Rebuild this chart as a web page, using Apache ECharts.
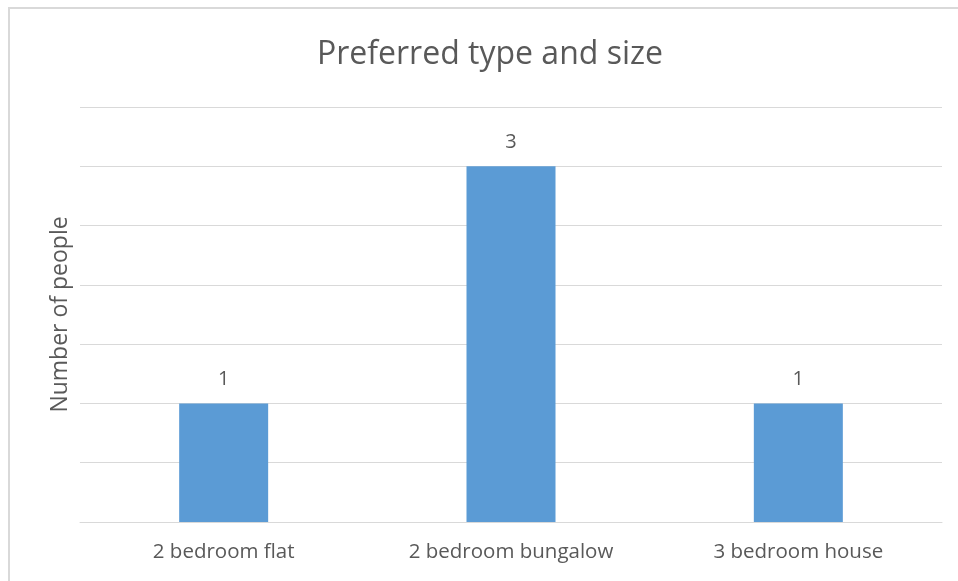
<!DOCTYPE html>
<html>
<head>
<meta charset="utf-8">
<script src="https://cdn.jsdelivr.net/npm/echarts@6/dist/echarts.min.js"></script>
<style>
  html, body { margin: 0; padding: 0; background: #fff; }
  #chart { width: 958px; height: 581px; }
</style>
</head>
<body>
<div id="chart"></div>
<script>
// data
var categories = ['2 bedroom flat', '2 bedroom bungalow', '3 bedroom house'];
var peopleCounts = [1, 3, 1];

var textColor = '#595959';
var gridColor = '#d9d9d9';

var myChart = echarts.init(document.getElementById('chart'));
myChart.setOption({
    backgroundColor: '#fff',
    animation: false,
    title: {
        text: 'Preferred type and size',
        left: 312,
        top: 34,
        textStyle: { fontFamily: 'Open Sans', fontSize: 32, fontWeight: 'normal', color: textColor }
    },
    // chart frame (top + left edge only visible)
    graphic: [
        { type: 'line', shape: { x1: 8, y1: 8, x2: 958, y2: 8 }, style: { stroke: gridColor, lineWidth: 2 } },
        { type: 'line', shape: { x1: 9, y1: 8, x2: 9, y2: 581 }, style: { stroke: gridColor, lineWidth: 2 } }
    ],
    grid: { left: 80, right: 16, top: 107, bottom: 59 },
    xAxis: {
        type: 'category',
        data: categories,
        axisLine: { lineStyle: { color: gridColor } },
        axisTick: { show: false },
        axisLabel: { fontFamily: 'Open Sans', fontSize: 20.5, color: textColor, margin: 20 }
    },
    yAxis: {
        type: 'value',
        min: 0,
        max: 3.5,
        interval: 0.5,
        name: 'Number of people',
        nameLocation: 'middle',
        nameGap: 8,
        nameTextStyle: { fontFamily: 'Open Sans', fontSize: 23, color: textColor },
        axisLabel: { show: false },
        axisLine: { show: false },
        axisTick: { show: false },
        splitLine: { lineStyle: { color: gridColor } }
    },
    series: [{
        type: 'bar',
        data: peopleCounts,
        barWidth: 89,
        itemStyle: { color: '#5b9bd5' },
        label: {
            show: true,
            position: 'top',
            distance: 14,
            fontFamily: 'Open Sans',
            fontSize: 20,
            color: textColor
        }
    }]
});
</script>
</body>
</html>
